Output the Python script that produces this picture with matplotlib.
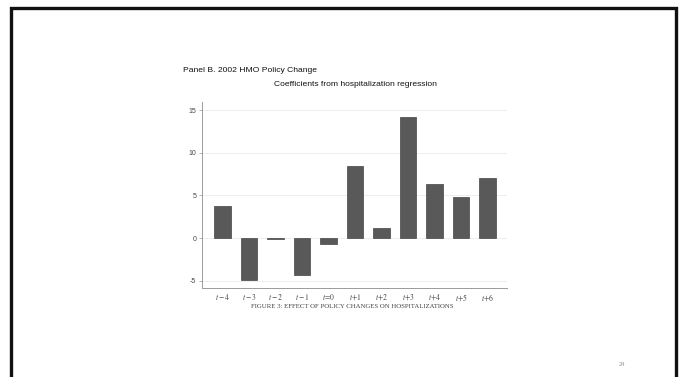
import matplotlib
matplotlib.use("Agg")
import matplotlib.pyplot as plt
from matplotlib.patches import Rectangle

# Data
periods = [r"$t-4$", r"$t-3$", r"$t-2$", r"$t-1$", r"$t\!=\!0$", r"$t\!+\!1$", r"$t\!+\!2$",
           r"$t\!+\!3$", r"$t\!+\!4$", r"$t\!+\!5$", r"$t\!+\!6$"]
coefficients = [3.8, -4.9, -0.1, -4.3, -0.7, 8.4, 1.15, 14.2, 6.3, 4.8, 7.1]
yticks = [-5, 0, 5, 10, 15]

plt.rcParams["font.family"] = ["Liberation Sans", "DejaVu Sans"]
plt.rcParams["mathtext.fontset"] = "stix"
plt.rcParams["axes.unicode_minus"] = False

fig = plt.figure(figsize=(6.83, 3.77), dpi=100)
fig.patch.set_facecolor("white")

# slide frame
frame = Rectangle((10.5 / 683, -0.05), (676 - 10.5) / 683, 1.05 - 7.5 / 377,
                  transform=fig.transFigure, fill=False, edgecolor="#111111",
                  linewidth=2.4, zorder=0)
fig.add_artist(frame)

ax = fig.add_axes([201.7 / 683, 1 - 288.3 / 377, (506.7 - 201.7) / 683, (288.3 - 101.7) / 377])
x = list(range(len(periods)))
ax.bar(x, coefficients, width=0.62, color="#595959", edgecolor="#444444", linewidth=0.5, zorder=3)

ax.set_xlim(-0.78, len(periods) - 1 + 0.72)
ax.set_ylim(-5.9, 16.0)
ax.set_yticks(yticks)
ax.set_yticklabels([str(v) for v in yticks])
ax.set_xticks(x)
ax.set_xticklabels(periods)

ax.grid(axis="y", color="#ebebeb", linewidth=0.6, zorder=0)
ax.set_axisbelow(True)
for side in ["top", "right"]:
    ax.spines[side].set_visible(False)
for side in ["left", "bottom"]:
    ax.spines[side].set_color("#9a9a9a")
    ax.spines[side].set_linewidth(0.7)

ax.tick_params(axis="y", labelsize=5, colors="#9a9a9a", labelcolor="#444444",
               length=2, width=0.5, pad=2)
ax.tick_params(axis="x", labelsize=5.5, length=0, pad=3, labelcolor="#444444")

fig.text(183 / 683, 1 - 71 / 377, "Panel B. 2002 HMO Policy Change", fontsize=6.1,
         color="#111111", ha="left", va="center")
fig.text(355 / 683, 1 - 84.3 / 377, "Coefficients from hospitalization regression",
         fontsize=6.1, color="#111111", ha="center", va="center")

fig.text(352 / 683, 1 - 307 / 377,
         "FIGURE 3: EFFECT OF POLICY CHANGES ON HOSPITALIZATIONS",
         fontsize=4.9, family="Liberation Serif", color="#444444", ha="center", va="center")

fig.text(622 / 683, 1 - 364 / 377, "24", fontsize=4.2, color="#999999",
         ha="center", va="center")

fig.savefig("out.png", dpi=100, facecolor="white")
